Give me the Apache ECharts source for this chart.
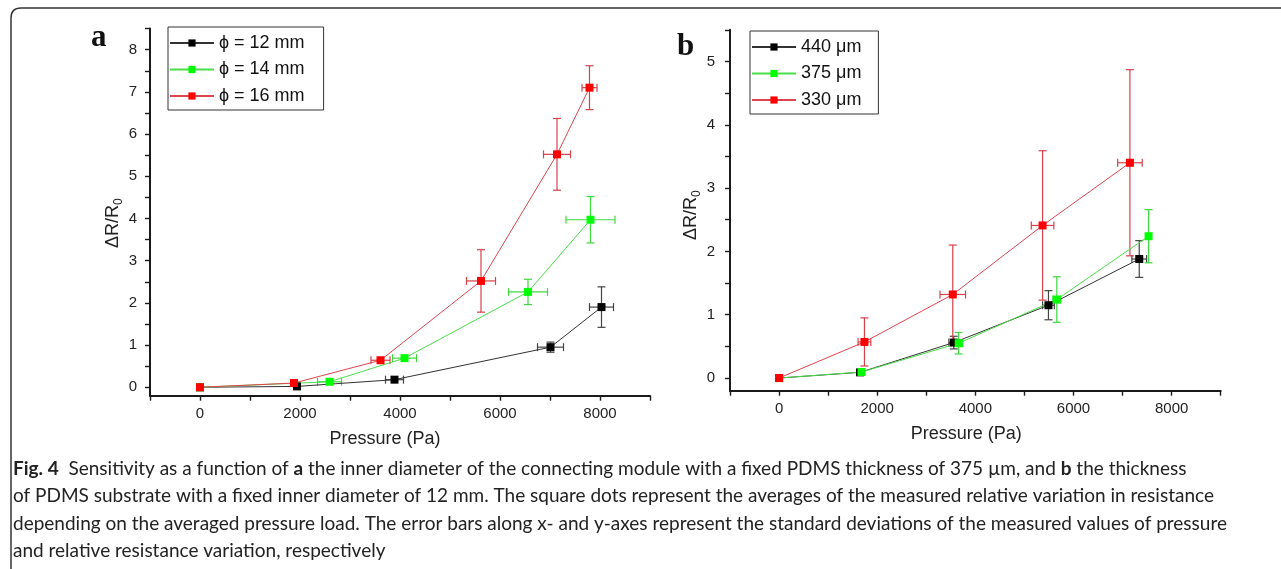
<!DOCTYPE html>
<html><head><meta charset="utf-8">
<script src="https://cdn.jsdelivr.net/npm/echarts@6/dist/echarts.min.js"></script>
<style>html,body{margin:0;padding:0;background:#fff}#c{width:1281px;height:569px}</style>
</head><body><div id="c"></div>
<script>
// ---------- Panel a : inner diameter ----------
const aNames = ['ϕ = 12 mm', 'ϕ = 14 mm', 'ϕ = 16 mm'];
const a12_p   = [0, 1940, 3890, 7010, 8030];
const a12_r   = [0, 0.02, 0.18, 0.95, 1.90];
const a12_pe  = [0, 0, 180, 260, 240];
const a12_re  = [0, 0, 0, 0.12, 0.48];
const a14_p   = [0, 2590, 4090, 6560, 7810];
const a14_r   = [0, 0.13, 0.69, 2.26, 3.97];
const a14_pe  = [0, 240, 240, 390, 490];
const a14_re  = [0, 0, 0, 0.30, 0.55];
const a16_p   = [0, 1880, 3610, 5620, 7140, 7790];
const a16_r   = [0, 0.10, 0.64, 2.52, 5.52, 7.10];
const a16_pe  = [0, 0, 190, 290, 270, 150];
const a16_re  = [0, 0, 0, 0.74, 0.85, 0.52];
// ---------- Panel b : PDMS thickness ----------
const bNames = ['440 μm', '375 μm', '330 μm'];
const b440_p  = [0, 1650, 3560, 5490, 7340];
const b440_r  = [0, 0.09, 0.56, 1.15, 1.88];
const b440_pe = [0, 0, 100, 120, 150];
const b440_re = [0, 0, 0.10, 0.23, 0.29];
const b375_p  = [0, 1680, 3660, 5660, 7530];
const b375_r  = [0, 0.095, 0.55, 1.24, 2.24];
const b375_pe = [0, 0, 80, 80, 0];
const b375_re = [0, 0, 0.17, 0.36, 0.42];
const b330_p  = [0, 1740, 3540, 5370, 7150];
const b330_r  = [0, 0.57, 1.32, 2.41, 3.40];
const b330_pe = [0, 130, 260, 230, 250];
const b330_re = [0, 0.38, 0.78, 1.18, 1.47];
// ---------- ticks ----------
const xMin = -1000, xMax = 9000, yMin = -0.2;
const xTickVals  = [-1000, 0, 1000, 2000, 3000, 4000, 5000, 6000, 7000, 8000, 9000];
const xLabelVals = [0, 2000, 4000, 6000, 8000];
const aYLabels = [0, 1, 2, 3, 4, 5, 6, 7, 8];
const aYTicks  = [0, 0.5, 1, 1.5, 2, 2.5, 3, 3.5, 4, 4.5, 5, 5.5, 6, 6.5, 7, 7.5, 8, 8.5];
const bYLabels = [0, 1, 2, 3, 4, 5];
const bYTicks  = [0, 0.5, 1, 1.5, 2, 2.5, 3, 3.5, 4, 4.5, 5, 5.5];

const FONT = 'Liberation Sans';
const AX = '#1a1a1a';
const fill = ['#000000', '#00ff00', '#ff0000'];
const lineC = ['#333333', '#4ade4a', '#e0454f'];
const errC = ['#444444', '#3fd83f', '#d8404a'];
const plain = v => String(v);

function xAxisCfg(gi, padR) {
  return {type: 'value', gridIndex: gi, min: xMin, max: xMax,
    axisLine: {onZero: false, lineStyle: {color: AX, width: 2}},
    axisTick: {customValues: xTickVals, length: 5, lineStyle: {color: AX, width: 1.4}},
    axisLabel: {customValues: xLabelVals, formatter: plain, margin: 11, fontSize: 15, color: '#222', fontFamily: FONT},
    splitLine: {show: false},
    name: 'Pressure (Pa)', nameLocation: 'middle', nameGap: 34,
    nameTextStyle: {fontSize: 18, color: '#222', fontFamily: FONT, padding: [0, padR, 0, 0]}};
}
function yAxisCfg(gi, max, labels, ticks, gap, margin, padR) {
  return {type: 'value', gridIndex: gi, min: yMin, max: max,
    axisLine: {onZero: false, lineStyle: {color: AX, width: 2}},
    axisTick: {customValues: ticks, length: 5, lineStyle: {color: AX, width: 1.4}},
    axisLabel: {customValues: labels, formatter: plain, margin: margin, fontSize: 15, color: '#222', fontFamily: FONT},
    splitLine: {show: false},
    name: '{m|ΔR/R}{s|0}', nameLocation: 'middle', nameRotate: 90, nameGap: gap,
    nameTextStyle: {color: '#222', padding: [0, padR, 0, 0], rich: {
      m: {fontSize: 18, fontFamily: FONT, color: '#222', lineHeight: 24, verticalAlign: 'middle'},
      s: {fontSize: 12, fontFamily: FONT, color: '#222', lineHeight: 14, verticalAlign: 'bottom'}}}};
}
function lineS(name, xs, ys, k, gi) {
  return {type: 'line', name: name, xAxisIndex: gi, yAxisIndex: gi, z: 3,
    data: xs.map((x, i) => [x, ys[i]]), symbol: 'rect', symbolSize: 8,
    lineStyle: {color: lineC[k], width: 1}, itemStyle: {color: fill[k]}, animation: false};
}
function errS(xs, ys, xe, ye, k, gi) {
  const color = errC[k];
  return {type: 'custom', xAxisIndex: gi, yAxisIndex: gi, z: 2, silent: true, animation: false,
    data: xs.map((x, i) => [x, ys[i], xe[i], ye[i]]), encode: {x: 0, y: 1},
    renderItem: function (params, api) {
      const x = api.value(0), y = api.value(1), ex = api.value(2), ey = api.value(3);
      const c = api.coord([x, y]); const cap = 4; const ch = [];
      const st = {stroke: color, lineWidth: 1.2};
      if (ey > 0) {
        const t = api.coord([x, y + ey]), b = api.coord([x, y - ey]);
        ch.push({type: 'line', shape: {x1: c[0], y1: t[1], x2: c[0], y2: b[1]}, style: st});
        ch.push({type: 'line', shape: {x1: c[0] - cap, y1: t[1], x2: c[0] + cap, y2: t[1]}, style: st});
        ch.push({type: 'line', shape: {x1: c[0] - cap, y1: b[1], x2: c[0] + cap, y2: b[1]}, style: st});
      }
      if (ex > 0) {
        const l = api.coord([x - ex, y]), r = api.coord([x + ex, y]);
        ch.push({type: 'line', shape: {x1: l[0], y1: c[1], x2: r[0], y2: c[1]}, style: st});
        ch.push({type: 'line', shape: {x1: l[0], y1: c[1] - cap, x2: l[0], y2: c[1] + cap}, style: st});
        ch.push({type: 'line', shape: {x1: r[0], y1: c[1] - cap, x2: r[0], y2: c[1] + cap}, style: st});
      }
      return {type: 'group', children: ch};
    }};
}
function legendCfg(names, left, top, padR) {
  return {data: names, left: left, top: top, orient: 'vertical', selectedMode: false,
    borderColor: '#333', borderWidth: 1, padding: [6, padR, 4, 1],
    itemWidth: 44, itemHeight: 9, itemGap: 6.5,
    textStyle: {fontSize: 18, lineHeight: 20, fontFamily: FONT, color: '#111'}};
}

const capStyle = {fontSize: 19, fontFamily: 'Lato', fill: '#222'};
const capRich = {b: {fontWeight: 'bold', fontSize: 19, fontFamily: 'Lato', fill: '#222'}};
const capLines = [
  '{b|Fig. 4}  Sensitivity as a function of {b|a} the inner diameter of the connecting module with a fixed PDMS thickness of 375 µm, and {b|b} the thickness',
  'of PDMS substrate with a fixed inner diameter of 12 mm. The square dots represent the averages of the measured relative variation in resistance',
  'depending on the averaged pressure load. The error bars along x- and y-axes represent the standard deviations of the measured values of pressure',
  'and relative resistance variation, respectively'
];
const capY = [469, 496, 524, 551];

const frameStyle = {stroke: '#333', lineWidth: 1.5, fill: null};
const chart = echarts.init(document.getElementById('c'));
chart.setOption({
  backgroundColor: '#fff',
  animation: false,
  grid: [
    {left: 150, width: 500, top: 28.6, bottom: 173.3},
    {left: 730, width: 490.7, top: 29.8, bottom: 178.3}
  ],
  xAxis: [xAxisCfg(0, 30), xAxisCfg(1, 18)],
  yAxis: [yAxisCfg(0, 8.5, aYLabels, aYTicks, 22, 13, 22), yAxisCfg(1, 5.5, bYLabels, bYTicks, 26, 15, 10)],
  legend: [legendCfg(aNames, 168, 27, 19), legendCfg(bNames, 750, 31, 17)],
  series: [
    errS(a12_p, a12_r, a12_pe, a12_re, 0, 0),
    errS(a14_p, a14_r, a14_pe, a14_re, 1, 0),
    errS(a16_p, a16_r, a16_pe, a16_re, 2, 0),
    lineS(aNames[0], a12_p, a12_r, 0, 0),
    lineS(aNames[1], a14_p, a14_r, 1, 0),
    lineS(aNames[2], a16_p, a16_r, 2, 0),
    errS(b440_p, b440_r, b440_pe, b440_re, 0, 1),
    errS(b375_p, b375_r, b375_pe, b375_re, 1, 1),
    errS(b330_p, b330_r, b330_pe, b330_re, 2, 1),
    lineS(bNames[0], b440_p, b440_r, 0, 1),
    lineS(bNames[1], b375_p, b375_r, 1, 1),
    lineS(bNames[2], b330_p, b330_r, 2, 1)
  ],
  graphic: [
    {type: 'line', shape: {x1: 11, y1: 18, x2: 11, y2: 575}, style: frameStyle, silent: true},
    {type: 'line', shape: {x1: 21, y1: 8, x2: 1290, y2: 8}, style: frameStyle, silent: true},
    {type: 'bezierCurve', shape: {x1: 11, y1: 18, cpx1: 11, cpy1: 8, x2: 21, y2: 8}, style: frameStyle, silent: true},
    {type: 'text', left: 91, top: 22, style: {text: 'a', font: 'bold 31px "Liberation Serif"', fill: '#111'}},
    {type: 'text', left: 677, top: 31, style: {text: 'b', font: 'bold 31px "Liberation Serif"', fill: '#111'}}
  ].concat(capLines.map((t, i) => ({
    type: 'text', x: 13, y: capY[i],
    style: Object.assign({text: t, rich: capRich, verticalAlign: 'middle'}, capStyle)
  })))
});
</script></body></html>
